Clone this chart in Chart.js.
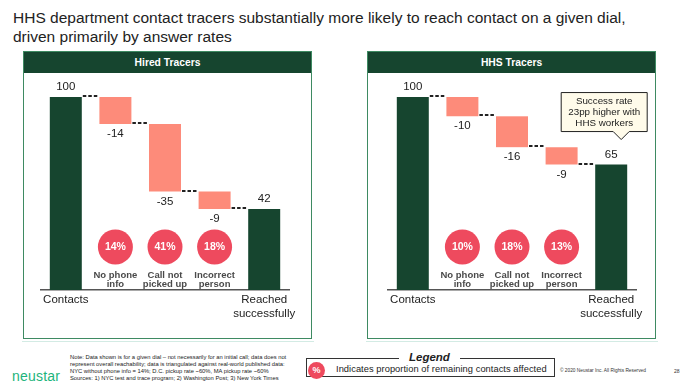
<!DOCTYPE html>
<html>
<head>
<meta charset="utf-8">
<script src="https://cdn.jsdelivr.net/npm/chart.js@4.4.0/dist/chart.umd.min.js"></script>
<style>
  body { margin: 0; width: 690px; height: 388px; position: relative; background: #fff; overflow: hidden; font-family: "Liberation Sans", Arial, sans-serif; }
  .abs { position: absolute; }
  #title { left: 13px; top: 8px; font-size: 15.5px; line-height: 19px; color: #222; }
  .panel { border: 1.5px solid #3e8a62; box-sizing: border-box; width: 289px; height: 288px; top: 51px; }
  .panel .head { background: #16452f; color: #fff; font-weight: bold; font-size: 10.3px; height: 21px; line-height: 21px; text-align: center; }
  .shadow { top: 341px; width: 292px; height: 1px; background: #d3ebe4; }
  canvas.cv { position: absolute; top: 73px; }
  #note { left: 70px; top: 354px; font-size: 5.8px; line-height: 7px; color: #222; }
  #logo { left: 12px; top: 368px; font-size: 14px; color: #1db47c; letter-spacing: 0.2px; }
  #legend { left: 306px; top: 358px; width: 249px; height: 19px; border: 1px solid #333; box-sizing: border-box; }
  #legend .lt { position: absolute; left: 92px; top: -8px; padding: 0 10px; background: #fff; font-size: 11.5px; font-weight: bold; font-style: italic; color: #222; }
  #legend .dot { position: absolute; left: 1px; top: 3px; width: 17px; height: 17px; border-radius: 50%; background: #ee4a5e; color: #fff; font-size: 9px; font-weight: bold; text-align: center; line-height: 17px; }
  #legend .txt { position: absolute; left: 29px; top: 5px; font-size: 9.3px; letter-spacing: 0.05px; color: #222; white-space: nowrap; }
  #copy { left: 560px; top: 368px; font-size: 4.8px; color: #333; }
  #page { left: 674px; top: 368px; font-size: 5px; color: #333; }
</style>
</head>
<body>
<div id="title" class="abs">HHS department contact tracers substantially more likely to reach contact on a given dial,<br>driven primarily by answer rates</div>

<div class="abs panel" style="left:23px"><div class="head">Hired Tracers</div></div>
<div class="abs panel" style="left:367px"><div class="head">HHS Tracers</div></div>
<div class="abs shadow" style="left:22px"></div>
<div class="abs shadow" style="left:366px"></div>

<canvas id="hired" class="cv" width="289" height="266" style="left:23px"></canvas>
<canvas id="hhs" class="cv" width="289" height="266" style="left:367px"></canvas>

<div id="logo" class="abs">neustar</div>
<div id="note" class="abs">Note: Data shown is for a given dial – not necessarily for an initial call; data does not<br>represent overall reachability; data is triangulated against real-world published data:<br>NYC without phone info = 14%; D.C. pickup rate ~60%, MA pickup rate ~60%<br>Sources: 1) NYC test and trace program; 2) Washington Post; 3) New York Times</div>
<div id="legend" class="abs"><div class="lt">Legend</div><div class="dot">%</div><div class="txt">Indicates proportion of remaining contacts affected</div></div>
<div id="copy" class="abs">© 2020 Neustar Inc. All Rights Reserved</div>
<div id="page" class="abs">28</div>

<script>
Chart.defaults.font.family = "'Liberation Sans', Arial, sans-serif";
Chart.defaults.color = "#222222";

const categories = ["Contacts", "", "", "", ["Reached", "successfully"]];
const hiredSteps = [100, -14, -35, -9, 42];
const hhsSteps = [100, -10, -16, -9, 65];
const hiredShares = [14, 41, 18];
const hhsShares = [10, 18, 13];
const reasonLabels = [["No phone", "info"], ["Call not", "picked up"], ["Incorrect", "person"]];
const calloutLines = ["Success rate", "23pp higher with", "HHS workers"];

const totalColor = "#16452f";
const dropColor = "#fd8b7a";
const dotColor = "#ee4a5e";

// turn the steps into floating bars [low, high]
function floating(steps) {
  let run = 0;
  return steps.map((v, i) => {
    if (i === 0 || i === steps.length - 1) {
      run = v;
      return [0, v];
    }
    const from = run;
    run += v;
    return [run, from];
  });
}

const waterfallPlugin = {
  id: "waterfall",
  afterDatasetsDraw(chart, args, opts) {
    const ctx = chart.ctx;
    const x = chart.scales.x, y = chart.scales.y;
    const meta = chart.getDatasetMeta(0);
    const bars = chart.data.datasets[0].data;
    const steps = opts.steps;
    const last = steps.length - 1;
    ctx.save();

    // dashed connectors
    ctx.strokeStyle = "#222";
    ctx.lineWidth = 2;
    ctx.setLineDash([3.5, 2]);
    for (let i = 0; i < last; i++) {
      const level = i === 0 ? bars[i][1] : bars[i][0];
      const py = Math.round(y.getPixelForValue(level)) - 1;
      const a = meta.data[i], b = meta.data[i + 1];
      ctx.beginPath();
      ctx.moveTo(a.x + a.width / 2 + 1, py);
      ctx.lineTo(b.x - b.width / 2 - 1, py);
      ctx.stroke();
    }
    ctx.setLineDash([]);

    // value labels
    ctx.fillStyle = "#222";
    ctx.font = "11.5px 'Liberation Sans', Arial, sans-serif";
    ctx.textAlign = "center";
    ctx.textBaseline = "middle";
    steps.forEach((v, i) => {
      const el = meta.data[i];
      if (v >= 0) {
        ctx.fillText(String(v), el.x, y.getPixelForValue(bars[i][1]) - 10);
      } else {
        ctx.fillText(String(v), el.x, y.getPixelForValue(bars[i][0]) + 10);
      }
    });

    // share circles and reasons
    const base = y.getPixelForValue(0);
    opts.shares.forEach((s, k) => {
      const cx = x.getPixelForValue(k + 1);
      const cy = y.getPixelForValue(22.3);
      ctx.fillStyle = dotColor;
      ctx.beginPath();
      ctx.arc(cx, cy, 17.5, 0, Math.PI * 2);
      ctx.fill();
      ctx.fillStyle = "#fff";
      ctx.font = "bold 10.5px 'Liberation Sans', Arial, sans-serif";
      ctx.fillText(s + "%", cx, cy + 0.5);
      ctx.fillStyle = "#4a4a4a";
      ctx.font = "bold 9.5px 'Liberation Sans', Arial, sans-serif";
      reasonLabels[k].forEach((t, j) => ctx.fillText(t, cx, base - 15 + j * 9.5));
    });

    // callout above the final bar
    if (opts.callout) {
      const el = meta.data[last];
      const top = y.getPixelForValue(bars[last][1]);
      const bx = el.x - 50, by = top - 72, bw = 86, bh = 39;
      const tipX = el.x + 10, tipY = top - 25;
      ctx.fillStyle = "#fffbea";
      ctx.strokeStyle = "#222";
      ctx.lineWidth = 1;
      ctx.beginPath();
      ctx.moveTo(bx, by);
      ctx.lineTo(bx + bw, by);
      ctx.lineTo(bx + bw, by + bh);
      ctx.lineTo(tipX + 8, by + bh);
      ctx.lineTo(tipX, tipY);
      ctx.lineTo(tipX - 8, by + bh);
      ctx.lineTo(bx, by + bh);
      ctx.closePath();
      ctx.fill();
      ctx.stroke();
      ctx.fillStyle = "#222";
      ctx.font = "9.8px 'Liberation Sans', Arial, sans-serif";
      opts.callout.forEach((t, j) => ctx.fillText(t, bx + bw / 2, by + 9 + j * 11));
    }
    ctx.restore();
  }
};

function makeChart(id, steps, shares, padLeft, padRight, callout) {
  const bars = floating(steps);
  return new Chart(document.getElementById(id), {
    type: "bar",
    data: {
      labels: categories,
      datasets: [{
        data: bars,
        backgroundColor: bars.map((b, i) => (i === 0 || i === bars.length - 1) ? totalColor : dropColor),
        borderWidth: 0,
        barPercentage: 0.645,
        categoryPercentage: 1,
      }]
    },
    options: {
      responsive: false,
      animation: false,
      layout: { padding: { left: padLeft, right: padRight, top: 24, bottom: 0 } },
      plugins: {
        legend: { display: false },
        tooltip: { enabled: false },
        waterfall: { steps: steps, shares: shares, callout: callout },
      },
      scales: {
        y: { display: false, min: 0, max: 100 },
        x: {
          grid: { display: false, drawTicks: false },
          border: { display: true, color: "#555", width: 1.5 },
          ticks: { font: { size: 11.5 }, color: "#222", padding: 3, maxRotation: 0, autoSkip: false },
          afterFit: s => { s.height = 49; },
        },
      },
    },
    plugins: [waterfallPlugin],
  });
}

makeChart("hired", hiredSteps, hiredShares, 18, 23, null);
makeChart("hhs", hhsSteps, hhsShares, 21, 20, calloutLines);
</script>
</body>
</html>
